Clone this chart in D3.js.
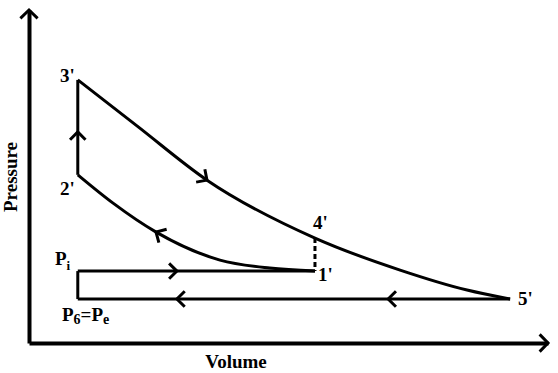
<!DOCTYPE html>
<html>
<head>
<meta charset="utf-8">
<script src="https://cdn.jsdelivr.net/npm/d3@7"></script>
<style>
  body { margin: 0; background: #fff; }
  svg { display: block; }
  .axis path { stroke: #000; stroke-width: 4; }
  .cycle { fill: none; stroke: #000; stroke-width: 3; }
  .chev { fill: none; stroke: #000; stroke-width: 3; stroke-linejoin: miter; stroke-linecap: butt; }
</style>
</head>
<body>
<svg id="chart" width="558" height="373"></svg>
<script>

////////////////////////// DATA //////////////////////////

// state points (volume, pressure), arbitrary units
const V2 = 0.94, V1 = 5.51, V5 = 9.27
const P6 = 1.32, Pi = 2.16, P2 = 5.05, P3 = 7.90, P4 = 3.15

// expansion 3' -> 4' -> 5'
const expansion = [[0.94, 7.90], [2.08, 6.52], [3.43, 4.89], [5.51, 3.15], [7.15, 2.19], [8.44, 1.59], [9.27, 1.32]]
// compression 1' -> 2' (stored left to right)
const compression = [[0.94, 5.05], [1.62, 4.20], [2.45, 3.33], [3.68, 2.49], [4.64, 2.25], [5.51, 2.16]]

// arrows on the cycle: where the tip sits and which way it points
const lineArrows = [
  { v: V2, p: 6.34, dir: 'up' },
  { v: 2.85, p: Pi, dir: 'right' },
  { v: 2.85, p: P6, dir: 'left' },
  { v: 6.92, p: P6, dir: 'left' }
]
const curveArrows = [
  { curve: 'expansion', v: 3.43, forward: true },
  { curve: 'compression', v: 2.45, forward: false }
]

const pointLabels = [
  { text: "3'", v: V2, p: P3, dx: -3, dy: 2, anchor: 'end' },
  { text: "2'", v: V2, p: P2, dx: -3, dy: 20, anchor: 'end' },
  { text: "4'", v: V1, p: P4, dx: -2, dy: -9, anchor: 'start' },
  { text: "1'", v: V1, p: Pi, dx: 3, dy: 10, anchor: 'start' },
  { text: "5'", v: V5, p: P6, dx: 8, dy: 6, anchor: 'start' }
]

const FONT = '"Liberation Serif", Tinos, "Times New Roman", Times, "DejaVu Serif", serif'

////////////////////////// SETUP //////////////////////////

const svg = d3.select('#chart')
const xScale = d3.scaleLinear().domain([0, 10]).range([29, 548])
const yScale = d3.scaleLinear().domain([0, 10]).range([343, 10])

const line = d3.line()
  .x((d) => xScale(d[0]))
  .y((d) => yScale(d[1]))
  .curve(d3.curveMonotoneX)

// chevron arrow head with tip at (x, y), pointing along angle (radians)
const chevron = (x, y, angle, len = 11, spread = 0.78) => {
  const a1 = angle + Math.PI - spread
  const a2 = angle + Math.PI + spread
  svg.append('path')
    .attr('class', 'chev')
    .attr('d', `M${x + len * Math.cos(a1)},${y + len * Math.sin(a1)} L${x},${y} L${x + len * Math.cos(a2)},${y + len * Math.sin(a2)}`)
}

const label = (x, y, size) => svg.append('text')
  .attr('x', x).attr('y', y)
  .style('font-family', FONT)
  .style('font-weight', 'bold')
  .style('font-size', size + 'px')
  .attr('fill', '#000')

////////////////////////// AXES //////////////////////////

svg.append('g')
  .attr('class', 'axis')
  .attr('transform', `translate(0,${yScale(0)})`)
  .call(d3.axisBottom(xScale).ticks(0).tickSizeOuter(0))

svg.append('g')
  .attr('class', 'axis')
  .attr('transform', `translate(${xScale(0)},0)`)
  .call(d3.axisLeft(yScale).ticks(0).tickSizeOuter(0))

chevron(xScale(10), yScale(0), 0, 12, 0.8)
chevron(xScale(0), yScale(10), -Math.PI / 2, 12, 0.8)

////////////////////////// CYCLE //////////////////////////

const expPath = svg.append('path').datum(expansion).attr('class', 'cycle').attr('d', line)
const compPath = svg.append('path').datum(compression).attr('class', 'cycle').attr('d', line)

const segments = [
  [[V2, P2], [V2, P3]],
  [[V2, Pi], [V1, Pi]],
  [[V2, Pi], [V2, P6]],
  [[V2, P6], [V5, P6]]
]
segments.forEach((s) => {
  svg.append('path').datum(s).attr('class', 'cycle').attr('d', d3.line().x((d) => xScale(d[0])).y((d) => yScale(d[1])))
})

// dashed 4' - 1'
svg.append('line')
  .attr('x1', xScale(V1)).attr('y1', yScale(P4))
  .attr('x2', xScale(V1)).attr('y2', yScale(Pi))
  .attr('stroke', '#000').attr('stroke-width', 3)
  .attr('stroke-dasharray', '5,3')

// arrows on straight lines
const dirAngle = { up: -Math.PI / 2, right: 0, left: Math.PI }
lineArrows.forEach((a) => chevron(xScale(a.v), yScale(a.p), dirAngle[a.dir]))

// arrows on curves, oriented along the tangent
const paths = { expansion: expPath.node(), compression: compPath.node() }
curveArrows.forEach((a) => {
  const node = paths[a.curve]
  const total = node.getTotalLength()
  const px = xScale(a.v)
  let best = 0, bestD = Infinity
  for (let l = 0; l <= total; l += 0.5) {
    const d = Math.abs(node.getPointAtLength(l).x - px)
    if (d < bestD) { bestD = d; best = l }
  }
  const tip = node.getPointAtLength(best)
  const p0 = node.getPointAtLength(Math.max(best - 3, 0))
  const p1 = node.getPointAtLength(Math.min(best + 3, total))
  let ang = Math.atan2(p1.y - p0.y, p1.x - p0.x)
  if (!a.forward) ang += Math.PI
  chevron(tip.x, tip.y, ang)
})

////////////////////////// LABELS //////////////////////////

pointLabels.forEach((l) => {
  label(xScale(l.v) + l.dx, yScale(l.p) + l.dy, 19)
    .attr('text-anchor', l.anchor)
    .text(l.text)
})

const pi = label(55, yScale(Pi) - 6, 19)
pi.append('tspan').text('P')
pi.append('tspan').attr('dy', 5).style('font-size', '13px').text('i')

const pe = label(62, yScale(P6) + 22, 19)
pe.append('tspan').text('P')
pe.append('tspan').attr('dy', 3).style('font-size', '14px').text('6')
pe.append('tspan').attr('dy', -3).text('=P')
pe.append('tspan').attr('dy', 3).style('font-size', '14px').text('e')

label(236, 368, 19)
  .attr('text-anchor', 'middle')
  .text('Volume')

label(0, 0, 19)
  .attr('transform', 'translate(17,177) rotate(-90)')
  .attr('text-anchor', 'middle')
  .text('Pressure')

</script>
</body>
</html>
